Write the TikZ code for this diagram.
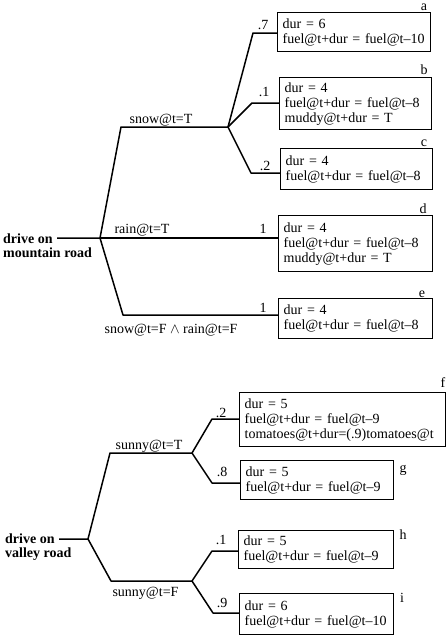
\documentclass[tikz,border=0pt]{standalone}
\usepackage{fontspec}
\setmainfont{Liberation Serif}
\begin{document}
\begin{tikzpicture}[x=1pt,y=-1pt,
  every node/.style={font=\fontsize{14}{15}\selectfont, inner sep=0pt},
  box/.style={draw, line width=1.4pt, anchor=north west, inner xsep=5pt, inner ysep=0pt, align=left},
  conn/.style={line width=1.5pt, line join=round},
  lbl/.style={anchor=base},
  rootlbl/.style={anchor=base west, font=\fontsize{14}{15}\selectfont\bfseries}]
\useasboundingbox (0,0) rectangle (447,638);

% ---------- mountain road ----------
\node[box, text width=143pt, minimum height=39pt] (a) at (277,12) {dur = 6\\fuel@t+dur = fuel@t–10};
\node[box, text width=142pt, minimum height=52pt] (b) at (279,77) {dur = 4\\fuel@t+dur = fuel@t–8\\muddy@t+dur = T};
\node[box, text width=142pt, minimum height=41pt] (c) at (280,148) {dur = 4\\fuel@t+dur = fuel@t–8};
\node[box, text width=144pt, minimum height=56pt] (d) at (278,215) {dur = 4\\fuel@t+dur = fuel@t–8\\muddy@t+dur = T};
\node[box, text width=144pt, minimum height=40pt] (e) at (278,298) {dur = 4\\fuel@t+dur = fuel@t–8};

\node[lbl] (la) at (424,10) {a};
\node[lbl] (lb) at (424,74) {b};
\node[lbl] (lc) at (424,146) {c};
\node[lbl] (ld) at (423,213) {d};
\node[lbl] (le) at (422,297) {e};

\node[lbl] (pa) at (263,29) {.7};
\node[lbl] (pb) at (264,96) {.1};
\node[lbl] (pc) at (265,170) {.2};
\node[lbl] (pd) at (263,233) {1};
\node[lbl] (pe) at (263,312) {1};

\node[lbl] (snowT) at (161,123) {snow@t=T};
\node[lbl] (rainT) at (142,233) {rain@t=T};
\node[lbl] (snowF) at (171,333) {snow@t=F $\wedge$ rain@t=F};

\node[rootlbl] (m1) at (3,243) {drive on};
\node[rootlbl] (m2) at (3,257) {mountain road};

\coordinate (mstart) at (57,238);
\coordinate (mj) at (100,238);
\coordinate (sn) at (121,127);
\coordinate (sj) at (228,127);
\coordinate (ka) at (253,33);
\coordinate (kb) at (252,103);
\coordinate (kc) at (251,173);
\coordinate (ke) at (123,315);

\draw[conn] (mstart) -- (mj) -- (sn) -- (sj);
\draw[conn] (sj) -- (ka) -- (ka -| a.west);
\draw[conn] (sj) -- (kb) -- (kb -| b.west);
\draw[conn] (sj) -- (kc) -- (kc -| c.west);
\draw[conn] (mj) -- (mj -| d.west);
\draw[conn] (mj) -- (ke) -- (ke -| e.west);

% ---------- valley road ----------
\node[box, text width=196pt, minimum height=54pt] (f) at (239,392) {dur = 5\\fuel@t+dur = fuel@t–9\\tomatoes@t+dur=(.9)tomatoes@t};
\node[box, text width=143pt, minimum height=39pt] (g) at (240,460) {dur = 5\\fuel@t+dur = fuel@t–9};
\node[box, text width=145pt, minimum height=38pt] (h) at (238,530) {dur = 5\\fuel@t+dur = fuel@t–9};
\node[box, text width=144pt, minimum height=41pt] (i) at (239,593) {dur = 6\\fuel@t+dur = fuel@t–10};

\node[lbl] (lf) at (443,387) {f};
\node[lbl] (lg) at (403,472) {g};
\node[lbl] (lh) at (403,539) {h};
\node[lbl] (li) at (402,602) {i};

\node[lbl] (pf) at (221,417) {.2};
\node[lbl] (pg) at (222,476) {.8};
\node[lbl] (ph) at (221,544) {.1};
\node[lbl] (pi) at (222,607) {.9};

\node[lbl] (sunT) at (149,449) {sunny@t=T};
\node[lbl] (sunF) at (145.5,596) {sunny@t=F};

\node[rootlbl] (v1) at (5,543) {drive on};
\node[rootlbl] (v2) at (5,557) {valley road};

\coordinate (vstart) at (59,539);
\coordinate (vj) at (88,539);
\coordinate (su) at (110,453);
\coordinate (sj2) at (192,453);
\coordinate (kf) at (212,419);
\coordinate (kg) at (212,483);
\coordinate (sf) at (111,581);
\coordinate (sj3) at (192,581);
\coordinate (kh) at (212,551);
\coordinate (ki) at (213,613);

\draw[conn] (vstart) -- (vj) -- (su) -- (sj2);
\draw[conn] (sj2) -- (kf) -- (kf -| f.west);
\draw[conn] (sj2) -- (kg) -- (kg -| g.west);
\draw[conn] (vj) -- (sf) -- (sj3);
\draw[conn] (sj3) -- (kh) -- (kh -| h.west);
\draw[conn] (sj3) -- (ki) -- (ki -| i.west);
\end{tikzpicture}
\end{document}
